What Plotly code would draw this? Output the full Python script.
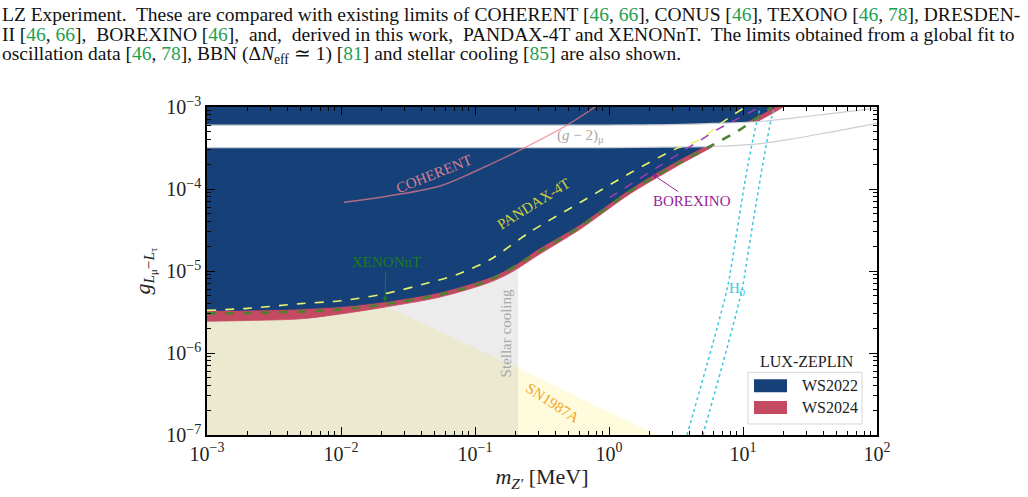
import math
import plotly.graph_objects as go

# ---------------- data (MeV, coupling) ----------------
ws2022_m = [0.001, 0.002, 0.005, 0.01, 0.0206, 0.0548, 0.129, 0.192, 0.290, 0.608, 1.44, 3.21, 5.67, 9.51, 17.3]
ws2022_g = [3.29e-6, 3.33e-6, 3.45e-6, 3.68e-6, 4.19e-6, 5.52e-6, 8.36e-6, 1.14e-5, 1.81e-5, 3.7e-5, 1.0e-4, 2.19e-4, 3.6e-4, 5.9e-4, 1.0e-3]

ws2024_m = [0.001, 0.002, 0.005, 0.01, 0.0206, 0.0548, 0.129, 0.192, 0.290, 0.608, 1.44, 3.21, 5.67, 9.51, 17.3, 19.9]
ws2024_g = [2.44e-6, 2.49e-6, 2.61e-6, 3.0e-6, 3.6e-6, 4.81e-6, 7.28e-6, 9.9e-6, 1.53e-5, 3.23e-5, 8.77e-5, 1.9e-4, 3.15e-4, 5.1e-4, 8.7e-4, 1.0e-3]

xenonnt_m = [0.001, 0.002, 0.005, 0.01, 0.0206, 0.0548, 0.129, 0.29, 0.608, 1.44, 3.21, 5.67, 9.51, 16.4]
xenonnt_g = [3.04e-6, 3.07e-6, 3.2e-6, 3.4e-6, 3.9e-6, 5.15e-6, 7.8e-6, 1.67e-5, 3.46e-5, 9.4e-5, 2.01e-4, 3.31e-4, 5.3e-4, 1.0e-3]

pandax_m = [0.001, 0.002, 0.005, 0.01, 0.0206, 0.0409, 0.0734, 0.129, 0.257, 0.608, 1.44, 3.21, 4.78, 7.1, 10.4]
pandax_g = [3.31e-6, 3.5e-6, 4.0e-6, 4.34e-6, 5.22e-6, 6.88e-6, 9.08e-6, 1.37e-5, 2.99e-5, 6.84e-5, 1.57e-4, 3.13e-4, 4.0e-4, 6.6e-4, 1.0e-3]

borexino_m = [1.01, 3.39, 6.4, 13.4]
borexino_g = [7.85e-5, 2.72e-4, 5.3e-4, 1.0e-3]

coherent_m = [0.0105, 0.0232, 0.0548, 0.0966, 0.236, 0.486, 0.787]
coherent_g = [6.89e-5, 8.3e-5, 1.09e-4, 1.6e-4, 3.2e-4, 6.0e-4, 1.0e-3]

g2_m = [0.001, 1, 3, 6, 14, 25, 45, 100]
g2_low = [3.2e-4, 3.2e-4, 3.25e-4, 3.3e-4, 3.6e-4, 4.16e-4, 4.95e-4, 6.3e-4]
g2_high = [6.0e-4, 6.0e-4, 6.1e-4, 6.3e-4, 6.7e-4, 7.4e-4, 8.3e-4, 9.7e-4]

h0a_m = [3.82, 7.6, 8.28, 10.9, 13.4]
h0a_g = [1e-7, 6e-6, 1.3e-5, 2.0e-4, 1.0e-3]
h0b_m = [5.02, 9.84, 10.7, 14.1, 16.4, 17.3]
h0b_g = [1e-7, 6e-6, 1.37e-5, 2.07e-4, 7.6e-4, 1.0e-3]

sn_m = [0.001, 0.0213, 0.21, 2.27]
sn_g = [4.1e-5, 3.78e-6, 6.56e-7, 1e-7]

stellar_m = [0.001, 0.21]

x_ticks = [1e-3, 1e-2, 1e-1, 1e0, 1e1, 1e2]
x_ticktext = ["10<sup>−3</sup>", "10<sup>−2</sup>", "10<sup>−1</sup>", "10<sup>0</sup>", "10<sup>1</sup>", "10<sup>2</sup>"]
y_ticks = [1e-7, 1e-6, 1e-5, 1e-4, 1e-3]
y_ticktext = ["10<sup>−7</sup>", "10<sup>−6</sup>", "10<sup>−5</sup>", "10<sup>−4</sup>", "10<sup>−3</sup>"]

legend_items = [("WS2022", "#154178"), ("WS2024", "#C44A62")]

XMIN, XMAX, YMIN, YMAX = 1e-3, 1e2, 1e-7, 1e-3
FONT = "Liberation Serif"
BLUE = "#154178"
RED = "#C44A62"
NOHOVER = dict(showlegend=False, hoverinfo="skip")

# layout geometry (pixels)
W, H = 1028, 497
ML, MR, MT, MB = 207, 151, 107, 53
PW, PH = W - ML - MR, H - MT - MB
SY = 0.98  # small vertical correction for placing overlay items


def px_x(px):
    return (px - ML) / PW


def px_y(py):
    return (H - MB - py / SY) / PH


fig = go.Figure()

# SN1987A
fig.add_trace(go.Scatter(x=sn_m + [sn_m[-1], sn_m[0]], y=sn_g + [YMIN, YMIN], fill="toself",
                         fillcolor="rgb(255,252,222)", line=dict(width=0), mode="lines", **NOHOVER))
# Stellar cooling
fig.add_trace(go.Scatter(x=[stellar_m[0], stellar_m[1], stellar_m[1], stellar_m[0]],
                         y=[YMIN, YMIN, YMAX, YMAX], fill="toself",
                         fillcolor="rgba(150,150,150,0.18)", line=dict(width=0), mode="lines", **NOHOVER))


def excluded_region(m, g, color):
    # invisible upper edge at the top of the frame, then the limit curve filled up to it
    fig.add_trace(go.Scatter(x=[m[0], m[-1]], y=[YMAX, YMAX], mode="lines",
                             line=dict(width=0, color=color), **NOHOVER))
    fig.add_trace(go.Scatter(x=m, y=g, mode="lines", fill="tonexty", fillcolor=color,
                             line=dict(width=0.8, color=color, shape="spline", smoothing=0.8), **NOHOVER))


excluded_region(ws2024_m, ws2024_g, RED)
excluded_region(ws2022_m, ws2022_g, BLUE)

# (g-2) band
fig.add_trace(go.Scatter(x=g2_m, y=g2_low, mode="lines", line=dict(width=0, shape="spline"), **NOHOVER))
fig.add_trace(go.Scatter(x=g2_m, y=g2_high, mode="lines", fill="tonexty", fillcolor="white",
                         line=dict(width=0, shape="spline"), **NOHOVER))
for arr in (g2_low, g2_high):
    fig.add_trace(go.Scatter(x=g2_m, y=arr, mode="lines",
                             line=dict(color="#C9CED6", width=1.2, shape="spline"), **NOHOVER))
# COHERENT
fig.add_trace(go.Scatter(x=coherent_m, y=coherent_g, mode="lines",
                         line=dict(color="rgba(240,125,140,0.7)", width=1.5, shape="spline"), **NOHOVER))
# H0 lines
for mm, gg in ((h0a_m, h0a_g), (h0b_m, h0b_g)):
    fig.add_trace(go.Scatter(x=mm, y=gg, mode="lines",
                             line=dict(color="#3CC8E0", width=1.5, dash="dot", shape="spline"), **NOHOVER))
# PANDAX-4T
fig.add_trace(go.Scatter(x=pandax_m, y=pandax_g, mode="lines",
                         line=dict(color="#E8F26A", width=1.6, dash="dash", shape="spline", smoothing=0.8),
                         **NOHOVER))
# BOREXINO
fig.add_trace(go.Scatter(x=borexino_m, y=borexino_g, mode="lines",
                         line=dict(color="#A03CB0", width=1.5, dash="dash"), **NOHOVER))
# XENONnT
fig.add_trace(go.Scatter(x=xenonnt_m, y=xenonnt_g, mode="lines",
                         line=dict(color="#4F7F30", width=2.6, dash="dash", shape="spline", smoothing=0.8),
                         **NOHOVER))

axis_common = dict(type="log", showgrid=False, zeroline=False, showline=True, linecolor="black",
                   linewidth=1.5, ticks="inside", ticklen=8, tickwidth=1, tickcolor="black",
                   mirror="allticks", tickfont=dict(family=FONT, size=20, color="#222"),
                   tickmode="array")


def minors(lo, hi):
    return [k * 10.0 ** e for e in range(lo, hi) for k in range(2, 10)]


fig.update_xaxes(**axis_common, range=[-3, 2], tickvals=x_ticks, ticktext=x_ticktext,
                 minor=dict(tickmode="array", tickvals=minors(-3, 2), ticks="inside", ticklen=4,
                            tickwidth=1, tickcolor="black"),
                 title=dict(text="<i>m</i><sub><i>Z′</i></sub> [MeV]", font=dict(family=FONT, size=22, color="#222"),
                            standoff=5))
fig.update_yaxes(**axis_common, range=[-7, -3], tickvals=y_ticks, ticktext=y_ticktext,
                 minor=dict(tickmode="array", tickvals=minors(-7, -3), ticks="inside", ticklen=4,
                            tickwidth=1, tickcolor="black"),
                 title=dict(text="<i>g</i><sub><i>L</i><sub>μ</sub>−<i>L</i><sub>τ</sub></sub>",
                            font=dict(family=FONT, size=22, color="#222"), standoff=10))


def L(v):
    return math.log10(v)


ann = []


def label(text, m, g, color, size=15, angle=0, **kw):
    ann.append(dict(x=L(m), y=L(g), xref="x", yref="y", text=text, showarrow=False,
                    xanchor="center", yanchor="middle",
                    font=dict(family=FONT, size=size, color=color), textangle=angle, **kw))


label("COHERENT", 0.0494, 1.52e-4, "#D88090", 15, -22)
label("PANDAX-4T", 0.271, 6.65e-5, "#CFCF3A", 15, -32)
label("(<i>g</i> − 2)<sub>μ</sub>", 0.608, 4.37e-4, "#A8A8A8", 15)
label("Stellar cooling", 0.173, 1.73e-6, "#A8A8A8", 15, -90)
label("SN1987A", 0.382, 2.49e-7, "#F2A424", 15, 33)
label("H<sub>0</sub>", 9.02, 6.0e-6, "#3CC8E0", 15)

ann.append(dict(x=L(0.0213), y=L(4.19e-6), xref="x", yref="y", text="XENONnT", showarrow=True,
                ax=1, ay=-40, arrowhead=2, arrowsize=1, arrowwidth=1, arrowcolor="#1F7A1F",
                font=dict(family=FONT, size=15, color="#1F7A1F")))
ann.append(dict(x=L(2.1), y=L(1.52e-4), xref="x", yref="y", text="BOREXINO", showarrow=True,
                ax=40, ay=27, arrowhead=2, arrowsize=1, arrowwidth=1, arrowcolor="#992299",
                font=dict(family=FONT, size=15, color="#992299")))

# caption text above the figure
G = "#22A050"


def c(t):
    return f'<span style="color:{G}">{t}</span>'


cap = [
    f"LZ Experiment.  These are compared with existing limits of COHERENT [{c('46')}, {c('66')}], CONUS [{c('46')}], TEXONO [{c('46')}, {c('78')}], DRESDEN-",
    f"II [{c('46')}, {c('66')}],  BOREXINO [{c('46')}],  and,  derived in this work,  PANDAX-4T and XENONnT.  The limits obtained from a global fit to",
    f"oscillation data [{c('46')}, {c('78')}], BBN (Δ<i>N</i><sub>eff</sub> ≃ 1) [{c('81')}] and stellar cooling [{c('85')}] are also shown.",
]
for i, t in enumerate(cap):
    ann.append(dict(x=px_x(0), y=px_y(12 + 20.3 * i), xref="paper", yref="paper",
                    xanchor="left", yanchor="middle", text=t, showarrow=False,
                    font=dict(family=FONT, size=19.5, color="#111")))

# legend (LUX-ZEPLIN), positioned in pixels inside the frame
shapes = [dict(type="rect", xref="paper", yref="paper", x0=px_x(748), x1=px_x(862), y0=px_y(424), y1=px_y(372),
               line=dict(color="#D6D6D6", width=1), fillcolor="rgba(255,255,255,0.9)")]
ann.append(dict(x=px_x(807), y=px_y(361), xref="paper", yref="paper", text="LUX-ZEPLIN", showarrow=False,
                xanchor="center", yanchor="middle", font=dict(family=FONT, size=16, color="#222")))
for i, (name, col) in enumerate(legend_items):
    yc = 385.5 + i * 22
    shapes.append(dict(type="rect", xref="paper", yref="paper", x0=px_x(754), x1=px_x(787),
                       y0=px_y(yc + 6.5), y1=px_y(yc - 6.5), line=dict(width=0), fillcolor=col))
    ann.append(dict(x=px_x(800), y=px_y(yc), xref="paper", yref="paper", xanchor="left", yanchor="middle",
                    text=name, showarrow=False, font=dict(family=FONT, size=16, color="#222")))

fig.update_layout(width=W, height=H, margin=dict(l=ML, r=MR, t=MT, b=MB),
                  plot_bgcolor="white", paper_bgcolor="white", annotations=ann, shapes=shapes,
                  showlegend=False, font=dict(family=FONT))

fig.write_html("out.html")
